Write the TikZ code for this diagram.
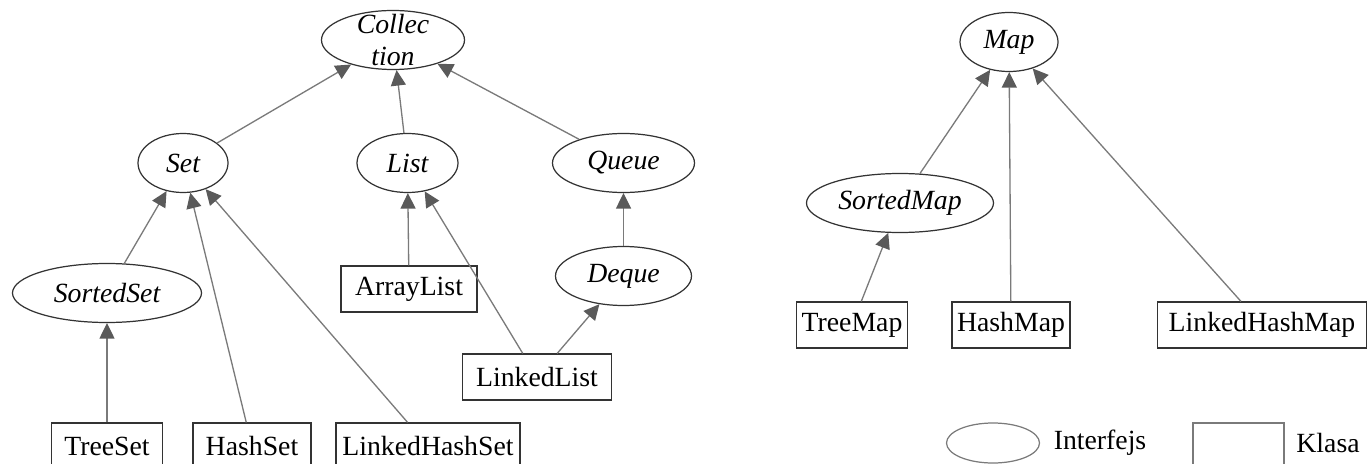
\documentclass[tikz,border=0pt]{standalone}
\usepackage{fontspec}
\setmainfont{Liberation Serif}
\usetikzlibrary{shapes.geometric,arrows.meta}
\definecolor{edgegray}{HTML}{7A7A7A}
\definecolor{tipgray}{HTML}{5A5A5A}
\definecolor{bordergray}{HTML}{333333}
\tikzset{
  iface/.style={draw=bordergray, line width=0.7pt, ellipse, inner sep=0pt, minimum height=1.18cm, font=\itshape},
  klass/.style={draw=bordergray, line width=0.7pt, rectangle, inner sep=0pt, minimum height=0.92cm},
  ext/.style={draw=edgegray, line width=0.75pt, -{Triangle[length=0.31cm,width=0.3cm,color=tipgray]}},
}
\begin{document}
\fontsize{15.8}{18}\selectfont
\begin{tikzpicture}
  \useasboundingbox (0,0) rectangle (27.34,9.26);

  % Collection hierarchy
  \node[iface, minimum width=2.86cm,
        label={[align=center,font=\itshape]center:Collec\\tion}] (collection) at (7.86,8.46) {};
  \node[iface, minimum width=1.8cm] (set) at (3.66,6.0) {Set};
  \node[iface, minimum width=2.02cm] (list) at (8.15,6.0) {List};
  \node[iface, minimum width=2.84cm] (queue) at (12.47,6.0) {Queue};
  \node[iface, minimum width=3.78cm] (sortedset) at (2.14,3.4) {SortedSet};
  \node[iface, minimum width=2.72cm] (deque) at (12.47,3.74) {Deque};
  \node[klass, minimum width=2.72cm] (arraylist) at (8.18,3.48) {ArrayList};
  \node[klass, minimum width=2.98cm] (linkedlist) at (10.74,1.72) {LinkedList};
  \node[klass, minimum width=2.22cm] (treeset) at (2.14,0.34) {TreeSet};
  \node[klass, minimum width=2.36cm] (hashset) at (5.04,0.34) {HashSet};
  \node[klass, minimum width=3.68cm] (linkedhashset) at (8.56,0.34) {LinkedHashSet};

  \draw[ext] (set) -- (collection);
  \draw[ext] (list) -- (collection);
  \draw[ext] (queue) -- (collection);
  \draw[ext] (sortedset) -- (set);
  \draw[ext] (hashset) -- (set);
  \draw[ext] (linkedhashset) -- (set);
  \draw[ext] (treeset) -- (sortedset);
  \draw[ext] (arraylist) -- (list);
  \draw[ext] (linkedlist) -- (list);
  \draw[ext] (linkedlist) -- (deque);
  \draw[ext] (deque) -- (queue);

  % Map hierarchy
  \node[iface, minimum width=1.96cm] (map) at (20.18,8.42) {Map};
  \node[iface, minimum width=3.74cm] (sortedmap) at (18.0,5.2) {SortedMap};
  \node[klass, minimum width=2.22cm] (treemap) at (17.04,2.76) {TreeMap};
  \node[klass, minimum width=2.36cm] (hashmap) at (20.22,2.76) {HashMap};
  \node[klass, minimum width=4.18cm] (linkedhashmap) at (25.24,2.76) {LinkedHashMap};

  \draw[ext] (sortedmap) -- (map);
  \draw[ext] (treemap) -- (sortedmap);
  \draw[ext] (hashmap) -- (map);
  \draw[ext] (linkedhashmap) -- (map);

  % legend
  \node[iface, draw=edgegray, minimum width=1.86cm, minimum height=0.8cm] (legiface) at (19.86,0.4) {};
  \node (legifacetxt) at (22.0,0.4) {Interfejs};
  \node[klass, draw=edgegray, minimum width=1.82cm] (legklass) at (24.77,0.34) {};
  \node (legklasstxt) at (26.56,0.4) {Klasa};
\end{tikzpicture}
\end{document}
